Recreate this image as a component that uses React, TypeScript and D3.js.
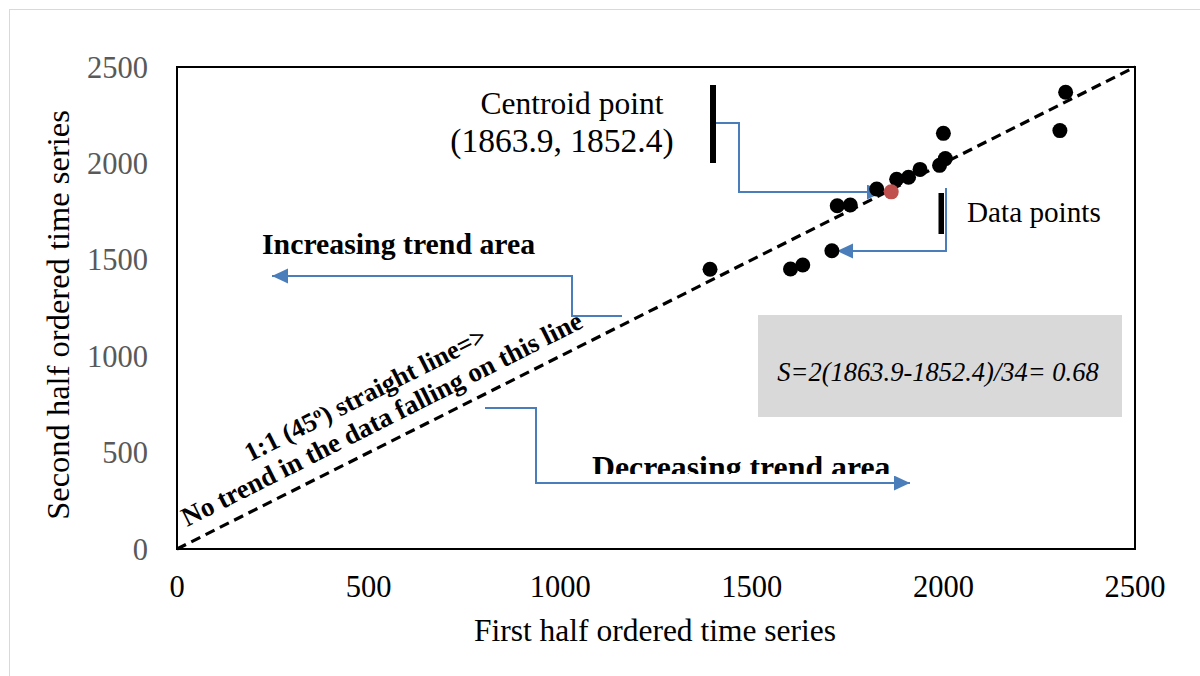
import React from "react";
import * as d3 from "d3";

const firstHalf = [1391, 1601, 1633, 1709, 1723, 1757, 1826, 1878, 1909, 1939, 1990, 2005, 2000, 2304, 2319];
const secondHalf = [1451, 1452, 1473, 1547, 1780, 1784, 1867, 1918, 1928, 1969, 1990, 2025, 2156, 2170, 2369];
const centroid = [1863.9, 1852.4];
const tickValues = [0, 500, 1000, 1500, 2000, 2500];
const xTitle = "First half ordered time series";
const yTitle = "Second half ordered time series";

const W = 1200;
const H = 676;
const FONT = "'Liberation Serif', 'Times New Roman', serif";
const BLUE = "#4a7ebb";

export default function App() {
  const x = d3.scaleLinear().domain([0, 2500]).range([177, 1135]);
  const y = d3.scaleLinear().domain([0, 2500]).range([549, 67]);
  const pts = firstHalf.map((v, i) => [v, secondHalf[i]]);
  const diag = d3.line<number>().x((d) => x(d)).y((d) => y(d))([0, 2500]);
  const angle = (-Math.atan2(y(0) - y(2500), x(2500) - x(0)) * 180) / Math.PI;

  return (
    <svg width={W} height={H} style={{ position: "absolute", left: 0, top: 0, background: "#fff" }} fontFamily={FONT}>
      <defs>
        <marker id="ah" markerUnits="userSpaceOnUse" markerWidth={17} markerHeight={16} refX={16} refY={7.5} orient="auto">
          <path d="M0,0 L16,7.5 L0,15 Z" fill={BLUE} />
        </marker>
        <clipPath id="decClip">
          <rect x={0} y={0} width={W} height={474} />
        </clipPath>
      </defs>
      <rect x={0} y={0} width={W} height={H} fill="#fff" />
      <rect x={9.5} y={9.5} width={W + 20} height={H + 20} fill="none" stroke="#d9d9d9" strokeWidth={1} />

      {/* plot frame */}
      <rect x={x(0)} y={y(2500)} width={x(2500) - x(0)} height={y(0) - y(2500)} fill="none" stroke="#000" strokeWidth={2} />

      {/* ticks */}
      {tickValues.map((t) => (
        <text key={"y" + t} x={148} y={y(t) + 10.5} textAnchor="end" fontSize={30.5} fill="#595959">
          {t}
        </text>
      ))}
      {tickValues.map((t) => (
        <text key={"x" + t} x={x(t)} y={597} textAnchor="middle" fontSize={30.5} fill="#000">
          {t}
        </text>
      ))}
      <text x={655} y={641} textAnchor="middle" fontSize={31.5} fill="#000">
        {xTitle}
      </text>
      <text transform={`translate(69,315) rotate(-90)`} textAnchor="middle" fontSize={32.5} fill="#000">
        {yTitle}
      </text>

      {/* gray box */}
      <rect x={758} y={315} width={364} height={102} fill="#d9d9d9" />
      <text x={938} y={381} textAnchor="middle" fontSize={26.5} fontStyle="italic" fill="#000">
        S=2(1863.9-1852.4)/34= 0.68
      </text>

      {/* 1:1 line */}
      <path d={diag || ""} fill="none" stroke="#000" strokeWidth={3.2} strokeDasharray="10,6" />

      {/* diagonal labels */}
      <text transform={`translate(250,462) rotate(${angle})`} fontSize={26.5} fontWeight="bold" fill="#000">
        1:1 (45<tspan dy={-9} fontSize={16}>o</tspan><tspan dy={9}>) straight line=&gt;</tspan>
      </text>
      <text transform={`translate(187,527) rotate(${angle})`} fontSize={27} fontWeight="bold" fill="#000">
        No trend in the data falling on this line
      </text>

      {/* area labels */}
      <text x={262} y={254} fontSize={29.8} fontWeight="bold" fill="#000">
        Increasing trend area
      </text>
      <g clipPath="url(#decClip)">
        <text x={592} y={478} fontSize={31.8} fontWeight="bold" fill="#000">
          Decreasing trend area
        </text>
      </g>

      {/* arrows */}
      <polyline points="622,316 572,316 572,276 272,276" fill="none" stroke={BLUE} strokeWidth={2} markerEnd="url(#ah)" />
      <polyline points="485,408 536,408 536,483 910,483" fill="none" stroke={BLUE} strokeWidth={2} markerEnd="url(#ah)" />
      <polyline points="715,123 739,123 739,192 883,192" fill="none" stroke={BLUE} strokeWidth={2} markerEnd="url(#ah)" />
      <polyline points="946,188 946,251 837,251" fill="none" stroke={BLUE} strokeWidth={2} markerEnd="url(#ah)" />

      {/* bars */}
      <rect x={710} y={85} width={6} height={78} fill="#000" />
      <rect x={938.5} y={193} width={5.5} height={41} fill="#000" />

      {/* centroid labels */}
      <text x={572} y={114} textAnchor="middle" fontSize={31.5} fill="#000">
        Centroid point
      </text>
      <text x={562} y={152} textAnchor="middle" fontSize={33.5} fill="#000">
        (1863.9, 1852.4)
      </text>
      <text x={967} y={222} fontSize={29.2} fill="#000">
        Data points
      </text>

      {/* data points */}
      {pts.map((p, i) => (
        <circle key={i} cx={x(p[0])} cy={y(p[1])} r={7.5} fill="#000" />
      ))}
      <circle cx={x(centroid[0])} cy={y(centroid[1])} r={7.5} fill="#c0504d" />
    </svg>
  );
}
